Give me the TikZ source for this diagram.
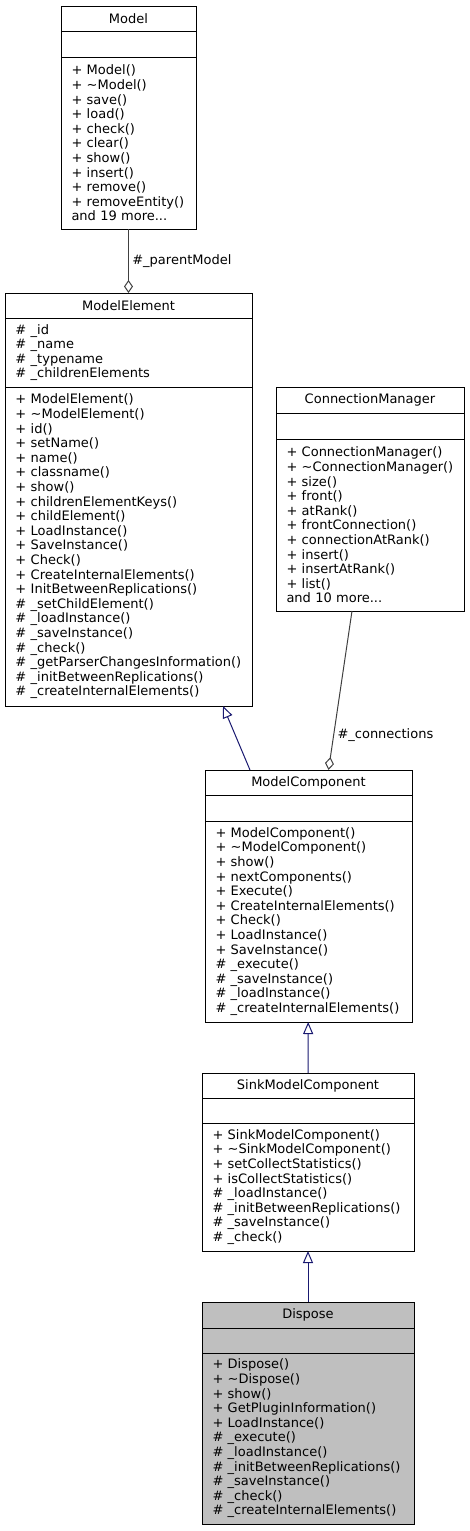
\documentclass[tikz,border=0pt]{standalone}
\usepackage{fontspec}
\setmainfont{DejaVu Sans}
\usetikzlibrary{positioning,arrows.meta}
\definecolor{edgeblue}{HTML}{191970}
\definecolor{edgegray}{HTML}{404040}
\definecolor{boxgray}{HTML}{BFBFBF}

\begin{document}
\begin{tikzpicture}[x=1pt, y=1pt, font=\fontsize{13}{14.6}\selectfont,
    ttl/.style={draw=black, line width=1pt, minimum width=#1, minimum height=25.5pt, inner sep=0pt, outer sep=0pt, anchor=north west},
    prt/.style={draw=black, line width=1pt, text width=#1, inner xsep=10.5pt, inner ysep=0pt, outer sep=0pt, align=left, minimum height=25.5pt},
    inherit/.style={draw=edgeblue, line width=1pt, -{Triangle[open, length=12pt, width=10pt, fill=white]}},
    assoc/.style={draw=edgegray, line width=1pt, -{Diamond[open, length=13pt, width=9pt, fill=white]}}]
    \useasboundingbox (0,0) rectangle (469,-1531);

    % Model
    \node[ttl=135pt] (model) at (61,-6) {Model};
    \node[prt=114pt, below=0pt of model] (model-a) {};
    \node[prt=114pt, below=0pt of model-a, minimum height=172pt] (model-m) {+ Model()\\+ \textasciitilde Model()\\+ save()\\+ load()\\+ check()\\+ clear()\\+ show()\\+ insert()\\+ remove()\\+ removeEntity()\\and 19 more...};

    % ModelElement
    \node[ttl=247pt, minimum height=25pt] (me) at (5,-293) {ModelElement};
    \node[prt=226pt, below=0pt of me, minimum height=69pt] (me-a) {\# \_id\\\# \_name\\\# \_typename\\\# \_childrenElements};
    \node[prt=226pt, below=0pt of me-a, minimum height=319pt] (me-m) {+ ModelElement()\\+ \textasciitilde ModelElement()\\+ id()\\+ setName()\\+ name()\\+ classname()\\+ show()\\+ childrenElementKeys()\\+ childElement()\\+ LoadInstance()\\+ SaveInstance()\\+ Check()\\+ CreateInternalElements()\\+ InitBetweenReplications()\\\# \_setChildElement()\\\# \_loadInstance()\\\# \_saveInstance()\\\# \_check()\\\# \_getParserChangesInformation()\\\# \_initBetweenReplications()\\\# \_createInternalElements()};

    % ConnectionManager
    \node[ttl=188pt, minimum height=26pt] (cm) at (276,-387) {ConnectionManager};
    \node[prt=167pt, below=0pt of cm, minimum height=26pt] (cm-a) {};
    \node[prt=167pt, below=0pt of cm-a, minimum height=172pt] (cm-m) {+ ConnectionManager()\\+ \textasciitilde ConnectionManager()\\+ size()\\+ front()\\+ atRank()\\+ frontConnection()\\+ connectionAtRank()\\+ insert()\\+ insertAtRank()\\+ list()\\and 10 more...};

    % ModelComponent
    \node[ttl=207pt, minimum height=25pt] (mc) at (205,-770) {ModelComponent};
    \node[prt=186pt, below=0pt of mc, minimum height=26pt] (mc-a) {};
    \node[prt=186pt, below=0pt of mc-a, minimum height=201pt] (mc-m) {+ ModelComponent()\\+ \textasciitilde ModelComponent()\\+ show()\\+ nextComponents()\\+ Execute()\\+ CreateInternalElements()\\+ Check()\\+ LoadInstance()\\+ SaveInstance()\\\# \_execute()\\\# \_saveInstance()\\\# \_loadInstance()\\\# \_createInternalElements()};

    % SinkModelComponent
    \node[ttl=212pt, minimum height=25pt] (sink) at (202,-1073) {SinkModelComponent};
    \node[prt=191pt, below=0pt of sink, minimum height=25pt] (sink-a) {};
    \node[prt=191pt, below=0pt of sink-a, minimum height=128pt] (sink-m) {+ SinkModelComponent()\\+ \textasciitilde SinkModelComponent()\\+ setCollectStatistics()\\+ isCollectStatistics()\\\# \_loadInstance()\\\# \_initBetweenReplications()\\\# \_saveInstance()\\\# \_check()};

    % Dispose
    \node[ttl=212pt, minimum height=26pt, fill=boxgray] (disp) at (202,-1302) {Dispose};
    \node[prt=191pt, below=0pt of disp, minimum height=25pt, fill=boxgray] (disp-a) {};
    \node[prt=191pt, below=0pt of disp-a, minimum height=171pt, fill=boxgray] (disp-m) {+ Dispose()\\+ \textasciitilde Dispose()\\+ show()\\+ GetPluginInformation()\\+ LoadInstance()\\\# \_execute()\\\# \_loadInstance()\\\# \_initBetweenReplications()\\\# \_saveInstance()\\\# \_check()\\\# \_createInternalElements()};

    % relations
    \draw[assoc] (model-m) -- node[right, pos=0.5] {\#\_parentModel} (me);
    \draw[assoc] ([xshift=-18pt]cm-m.south) -- node[right, pos=0.78] {\#\_connections} ([xshift=20pt]mc.north);
    \draw[inherit] ([xshift=-58.5pt]mc.north) -- ([xshift=94.5pt]me-m.south);
    \draw[inherit] (sink) -- (mc-m);
    \draw[inherit] (disp) -- (sink-m);
\end{tikzpicture}
\end{document}
